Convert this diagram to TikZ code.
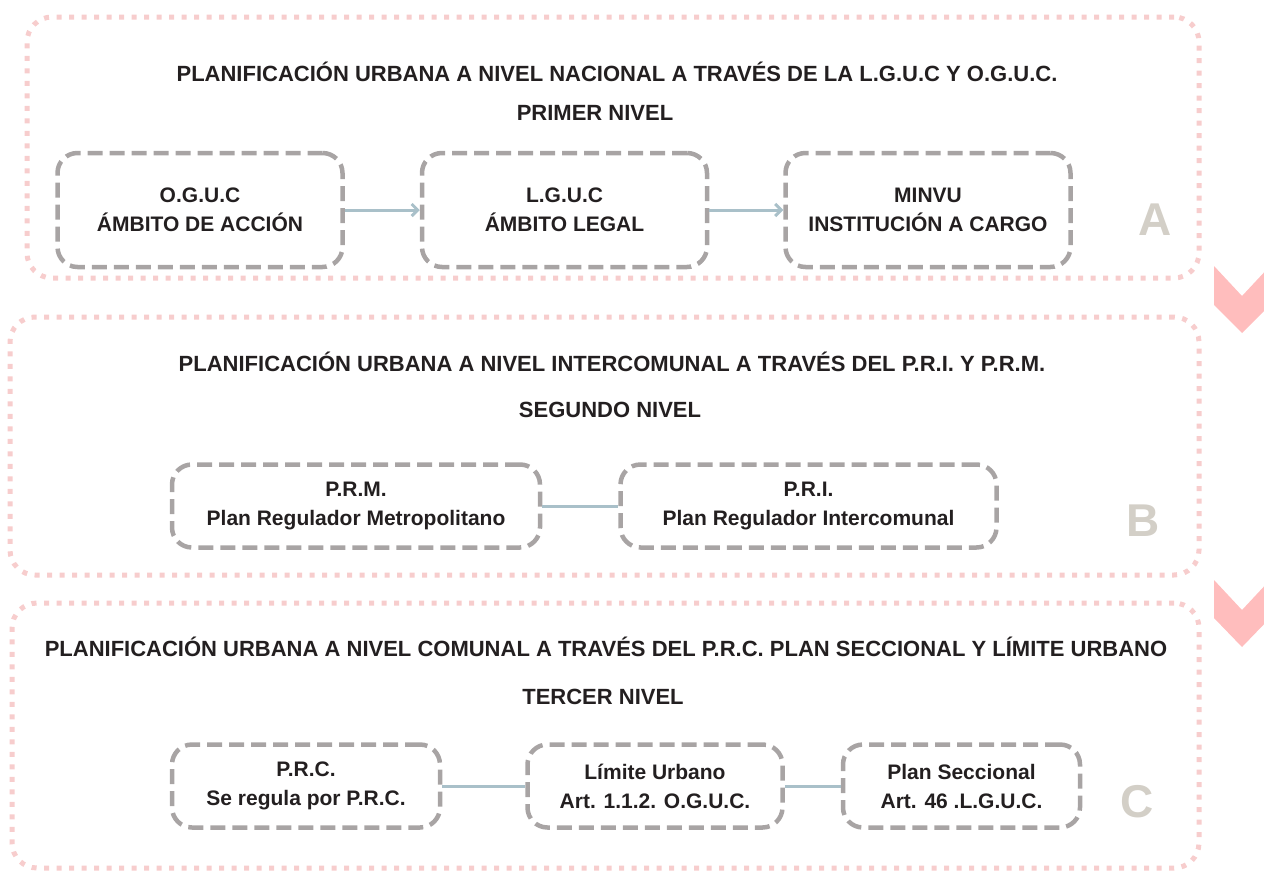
\documentclass[tikz,border=0pt]{standalone}
\usepackage{fontspec}
\setmainfont{Liberation Sans}
\usepackage{xcolor}
\usepackage{tikz}
\usetikzlibrary{arrows.meta,
                positioning}
\definecolor{framepink}{HTML}{F7CDCD}
\definecolor{chevpink}{HTML}{FFBDBD}
\definecolor{boxgrey}{HTML}{A8A4A4}
\definecolor{linkblue}{HTML}{A9C0C9}
\definecolor{lettergrey}{HTML}{D3CFC7}
\definecolor{textdark}{HTML}{231F20}
\tikzstyle{frame} = [draw=framepink, line width=5pt, dash pattern=on 5pt off 7.5pt, rounded corners=25pt]
\tikzstyle{item} = [draw=boxgrey, line width=4.5pt, dash pattern=on 15pt off 7pt, rounded corners=20pt, align=center, text=textdark, font=\fontsize{21}{29}\selectfont\bfseries]
\tikzstyle{heading} = [text=textdark, font=\fontsize{22}{24}\selectfont\bfseries]
\tikzstyle{letter} = [text=lettergrey, font=\fontsize{46}{46}\selectfont\bfseries]
\tikzstyle{arrow} = [draw=linkblue, line width=3pt, -{Straight Barb[length=6pt,width=12pt]}]
\tikzstyle{link} = [draw=linkblue, line width=3pt]

\begin{document}
\begin{tikzpicture}[x=1pt,y=-1pt]
    \useasboundingbox (0,0) rectangle (1264,871);

    % level frames
    \node[frame, minimum width=1172pt, minimum height=261pt] (frameA) at (613,147.5) {};
    \node[frame, minimum width=1189pt, minimum height=258pt] (frameB) at (604.5,446) {};
    \node[frame, minimum width=1187pt, minimum height=265pt] (frameC) at (605.5,735.5) {};

    % chevrons
    \fill[chevpink] (1214,266) -- (1242,296) -- (1270,266) -- (1270,305) -- (1242,333) -- (1214,305) -- cycle;
    \fill[chevpink] (1214,580) -- (1242,610) -- (1270,580) -- (1270,618) -- (1242,647) -- (1214,618) -- cycle;

    % level A
    \node[heading] (titleA) at (617,72) {PLANIFICACIÓN URBANA A NIVEL NACIONAL A TRAVÉS DE LA L.G.U.C Y O.G.U.C.};
    \node[heading] (levelA) at (595,113) {PRIMER NIVEL};
    \node[item, minimum width=285pt, minimum height=114pt] (oguc) at (200,210) {O.G.U.C\\ÁMBITO DE ACCIÓN};
    \node[item, minimum width=285pt, minimum height=114pt] (lguc) [right=75pt of oguc] {L.G.U.C\\ÁMBITO LEGAL};
    \node[item, minimum width=285pt, minimum height=114pt] (minvu) [right=74pt of lguc] {MINVU\\INSTITUCIÓN A CARGO};
    \node[letter] (letA) at (1155,220) {A};

    \draw [arrow] (oguc) -- (lguc);
    \draw [arrow] (lguc) -- (minvu);

    % level B
    \node[heading] (titleB) at (612,362) {PLANIFICACIÓN URBANA A NIVEL INTERCOMUNAL A TRAVÉS DEL P.R.I. Y P.R.M.};
    \node[heading] (levelB) at (610,410) {SEGUNDO NIVEL};
    \node[item, minimum width=368pt, minimum height=83pt] (prm) at (356,506) {P.R.M.\\Plan Regulador Metropolitano};
    \node[item, minimum width=376pt, minimum height=83pt] (pri) [right=76pt of prm] {P.R.I.\\Plan Regulador Intercomunal};
    \node[letter] (letB) at (1143,521) {B};

    \draw [link] (prm) -- (pri);

    % level C
    \node[heading] (titleC) at (606,647) {PLANIFICACIÓN URBANA A NIVEL COMUNAL A TRAVÉS DEL P.R.C. PLAN SECCIONAL Y LÍMITE URBANO};
    \node[heading] (levelC) at (603,697) {TERCER NIVEL};
    \node[item, minimum width=268pt, minimum height=83pt] (prc) at (306,786) {P.R.C.\\Se regula por P.R.C.};
    \node[item, minimum width=255pt, minimum height=83pt] (limite) [right=83pt of prc] {Límite Urbano\\Art. 1.1.2. O.G.U.C.};
    \node[item, minimum width=237pt, minimum height=83pt] (seccional) [right=56pt of limite] {Plan Seccional\\Art. 46 .L.G.U.C.};
    \node[letter] (letC) at (1137,802) {C};

    \draw [link] (prc) -- (limite);
    \draw [link] (limite) -- (seccional);
\end{tikzpicture}
\end{document}
